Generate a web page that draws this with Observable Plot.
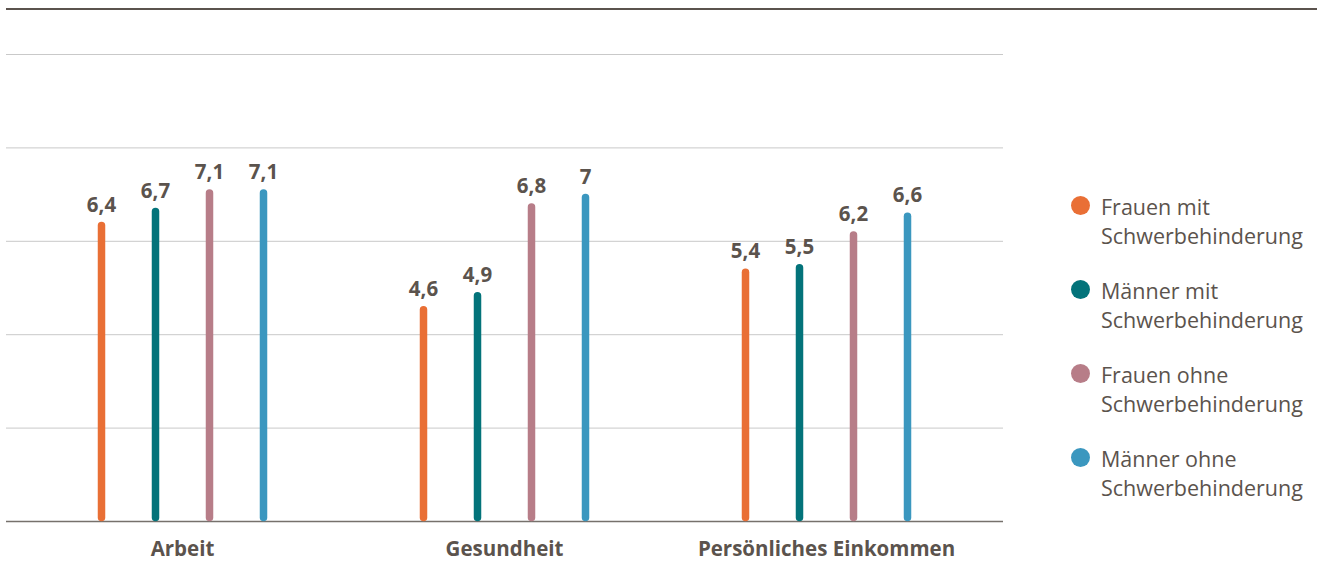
<!DOCTYPE html>
<html>
<head>
<meta charset="utf-8">
<script src="https://cdn.jsdelivr.net/npm/d3@7"></script>
<script src="https://cdn.jsdelivr.net/npm/@observablehq/plot@0.6"></script>
<style>
  html, body { margin: 0; padding: 0; background: #fff; }
  #wrap { position: relative; width: 1317px; height: 563px; font-family: "Open Sans", sans-serif; color: #5b534d; }
  #topline { position: absolute; left: 6px; right: 0; top: 8px; height: 1.5px; background: #5b534d; }
  #chart { position: absolute; left: 0; top: 0; }
  #legend { position: absolute; left: 1071px; top: 192px; }
  .item { position: relative; padding-left: 30px; height: 84px; font-size: 21.5px; line-height: 29px; }
  .dot { position: absolute; left: 0; top: 4px; width: 19px; height: 19px; border-radius: 50%; }
</style>
</head>
<body>
<div id="wrap">
  <div id="topline"></div>
  <div id="chart"></div>
  <div id="legend"></div>
</div>
<script>
const groups = ["Arbeit", "Gesundheit", "Persönliches Einkommen"];
const series = ["Frauen mit Schwerbehinderung", "Männer mit Schwerbehinderung", "Frauen ohne Schwerbehinderung", "Männer ohne Schwerbehinderung"];
const legendLines = [["Frauen mit", "Schwerbehinderung"], ["Männer mit", "Schwerbehinderung"], ["Frauen ohne", "Schwerbehinderung"], ["Männer ohne", "Schwerbehinderung"]];
const colors = ["#e96f35", "#03737a", "#b77d88", "#3b97bf"];
const valuesArbeit = [6.4, 6.7, 7.1, 7.1];
const valuesGesundheit = [4.6, 4.9, 6.8, 7.0];
const valuesEinkommen = [5.4, 5.5, 6.2, 6.6];
const gridTicks = [0, 2, 4, 6, 8, 10];

const valuesByGroup = [valuesArbeit, valuesGesundheit, valuesEinkommen];
const data = groups.flatMap((g, gi) => series.map((s, si) => ({group: g, series: s, value: valuesByGroup[gi][si]})));
const fmt = v => String(v).replace(".", ",");
const textColor = "#5b534d";

// gridlines per facet; the outer facets extend slightly beyond the frame
const gridMarks = groups.flatMap((g, gi) => {
  const insetLeft = gi === 0 ? -15 : 0;
  const insetRight = gi === groups.length - 1 ? -16 : 0;
  const rows = gridTicks.map(t => ({group: g, tick: t}));
  return [
    Plot.ruleY(rows.filter(d => d.tick > 0), {fx: "group", y: "tick", stroke: "#c9c9c9", strokeWidth: 1, insetLeft, insetRight}),
    Plot.ruleY(rows.filter(d => d.tick === 0), {fx: "group", y: "tick", stroke: "#76716c", strokeWidth: 1.6, insetLeft, insetRight})
  ];
});

const chart = Plot.plot({
  width: 1010,
  height: 563,
  marginTop: 54,
  marginBottom: 42,
  marginLeft: 21,
  marginRight: 23,
  style: {fontFamily: "'Open Sans', sans-serif", color: textColor, background: "transparent"},
  fx: {domain: groups, padding: 0, label: null},
  x: {domain: series, type: "band", paddingInner: 0, paddingOuter: 0.96, axis: null},
  y: {domain: [0, 10], axis: null},
  color: {domain: series, range: colors},
  marks: [
    ...gridMarks,
    Plot.axisFx({anchor: "bottom", tickSize: 0, tickPadding: 20, fontSize: 20.5, fontWeight: 700, fill: textColor, label: null, style: {letterSpacing: "0.8px"}}),
    Plot.ruleX(data, {fx: "group", x: "series", y1: "value", y2: 0, stroke: "series", strokeWidth: 7.5, strokeLinecap: "round", insetTop: 3.5, insetBottom: 3.5}),
    Plot.text(data, {fx: "group", x: "series", y: "value", text: d => fmt(d.value), lineAnchor: "bottom", dy: -11, fontSize: 20.5, fontWeight: 700, fill: textColor})
  ]
});
document.getElementById("chart").appendChild(chart);

const legend = document.getElementById("legend");
series.forEach((s, i) => {
  const item = document.createElement("div");
  item.className = "item";
  const dot = document.createElement("span");
  dot.className = "dot";
  dot.style.background = colors[i];
  item.appendChild(dot);
  legendLines[i].forEach(line => {
    const l = document.createElement("div");
    l.textContent = line;
    item.appendChild(l);
  });
  legend.appendChild(item);
});
</script>
</body>
</html>
